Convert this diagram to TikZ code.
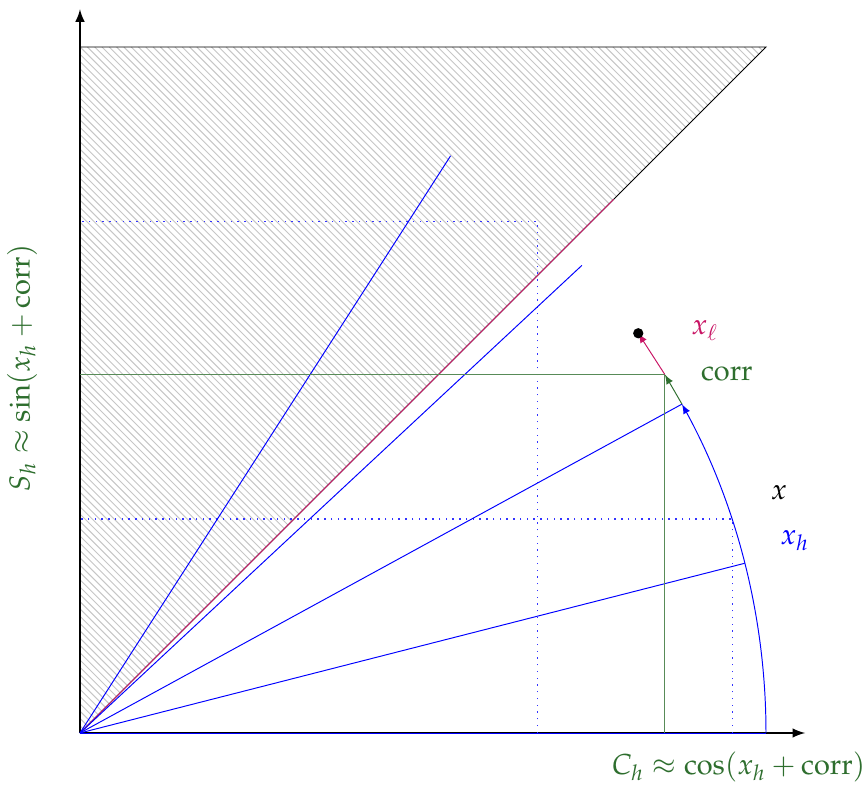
\documentclass[tikz,border=0pt]{standalone}
\usepackage{mathpazo}
\usetikzlibrary{arrows}
\definecolor{gcol}{RGB}{46,110,46}
\definecolor{mcol}{RGB}{200,20,100}
\tikzset{
  axis/.style={thick,-latex},
  ray/.style={blue},
  hatch/.style={gray!45,line width=0.4pt},
  proj/.style={blue!80,line width=0.6pt,dash pattern=on 0.6pt off 2.2pt},
  gline/.style={gcol!80},
  lab/.style={font=\large}
}
\begin{document}
\begin{tikzpicture}
\useasboundingbox (-1.166,-0.758) rectangle (11.487,10.685);
\coordinate (O) at (0,0);
\coordinate (T) at (10,10);
\coordinate (TL) at (0,10);
\begin{scope}
  \clip (O) -- (T) -- (TL) -- cycle;
  \foreach \i in {0,...,190}{
    \draw[hatch] ({\i*0.1064-10},10) -- ({\i*0.1064},0);
  }
\end{scope}
\draw (TL) -- (T) -- (O);
\coordinate (M) at (7.78,7.78);
\draw[mcol] (O) -- (M);
% axes
\coordinate (XE) at (10.57,0);
\coordinate (YE) at (0,10.55);
\draw[axis] (O) -- (XE);
\draw[axis] (O) -- (YE);
% projections (dotted)
\coordinate (P1) at (6.672,7.453);
\coordinate (P1x) at (6.672,0);
\coordinate (P1y) at (0,7.453);
\draw[proj] (P1x) -- (P1) -- (P1y);
\coordinate (P2) at (9.514,3.120);
\coordinate (P2x) at (9.514,0);
\coordinate (P2y) at (0,3.120);
\draw[proj] (P2x) -- (P2) -- (P2y);
% rays
\foreach \a/\n in {0/r0,0.25/r1,0.5/r2,0.75/r3,1/r4}{
  \coordinate (\n) at ({10*cos(\a r)},{10*sin(\a r)});
  \draw[ray] (O) -- (\n);
}
% arc
\draw[blue,-latex] (10,0) arc[start angle=0,end angle={deg(0.5)},radius=10];
% green point
\coordinate (G) at ({10*cos(0.55 r)},{10*sin(0.55 r)});
\coordinate (Gx) at ({10*cos(0.55 r)},0);
\coordinate (Gy) at (0,{10*sin(0.55 r)});
\draw[gline] (Gx) -- (G) -- (Gy);
\draw[gcol,-latex] (r2) -- (G);
% black dot
\coordinate (D) at (8.138,5.827);
\draw[mcol,-latex] (G) -- (D);
\fill (D) circle (0.075);
% labels
\node[lab,mcol] (lxl) at (9.11,5.87) {$x_\ell$};
\node[lab,gcol] (lcorr) at (9.43,5.23) {$\mathrm{corr}$};
\node[lab] (lx) at (10.19,3.51) {$x$};
\node[lab,blue] (lxh) at (10.42,2.81) {$x_h$};
\node[lab,gcol] (lC) at (9.60,-0.50) {$C_h\approx\cos(x_h+\mathrm{corr})$};
\node[lab,gcol,rotate=90] (lS) at (-0.845,5.32) {$S_h\approx\sin(x_h+\mathrm{corr})$};
\end{tikzpicture}
\end{document}
